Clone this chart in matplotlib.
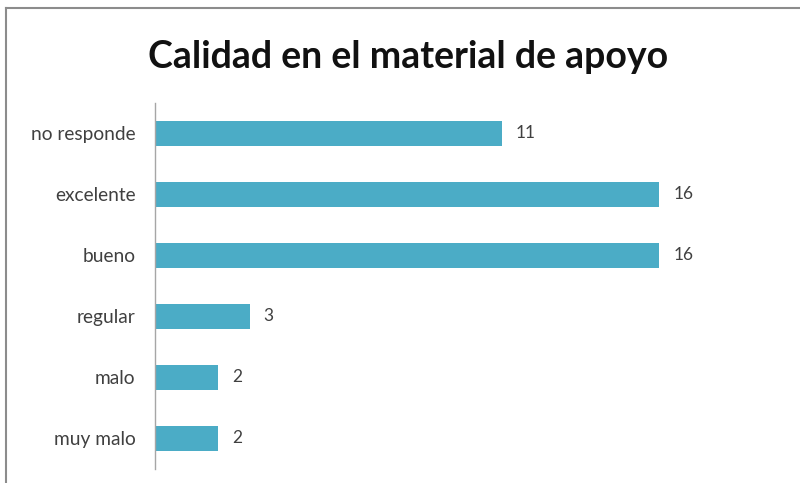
import matplotlib
matplotlib.use("Agg")
import matplotlib.pyplot as plt
from matplotlib.lines import Line2D

# ─── 数据 ─────────────────────────────────────────────
categorias = ["muy malo", "malo", "regular", "bueno", "excelente", "no responde"]
valores = [2, 2, 3, 16, 16, 11]
titulo = "Calidad en el material de apoyo"

BAR_COLOR = "#4BACC6"
TEXT_COLOR = "#404040"

plt.rcParams["font.family"] = ["Lato", "DejaVu Sans"]

fig = plt.figure(figsize=(8, 4.83), dpi=100)
fig.patch.set_facecolor("white")
ax = fig.add_axes([0.19375, 0.029, 0.70875, 0.758])

y = list(range(len(categorias)))
bars = ax.barh(y, valores, height=0.41, color=BAR_COLOR)

for b, v in zip(bars, valores):
    ax.text(b.get_width() + 0.45, b.get_y() + b.get_height() / 2, str(v),
            va="center", ha="left", fontsize=12.5, color=TEXT_COLOR)

ax.set_yticks(y)
ax.set_yticklabels(categorias, fontsize=13.8, color=TEXT_COLOR)
ax.tick_params(axis="y", length=0, pad=14)
ax.set_xticks([])
ax.set_xlim(0, 18)
ax.set_ylim(-0.5, len(categorias) - 0.5)

for s in ["top", "right", "bottom"]:
    ax.spines[s].set_visible(False)
ax.spines["left"].set_color("#A6A6A6")
ax.spines["left"].set_linewidth(1)

fig.text(0.51, 0.882, titulo, ha="center", va="center",
         fontsize=27, fontweight="bold", color="#111111")

# 外框 (上、左)
fig.add_artist(Line2D([0.0075, 1.0], [0.984, 0.984], transform=fig.transFigure,
                      color="#8C8C8C", lw=1.5))
fig.add_artist(Line2D([0.0075, 0.0075], [0.0, 0.984], transform=fig.transFigure,
                      color="#8C8C8C", lw=1.5))

fig.savefig("out.png", dpi=100)
